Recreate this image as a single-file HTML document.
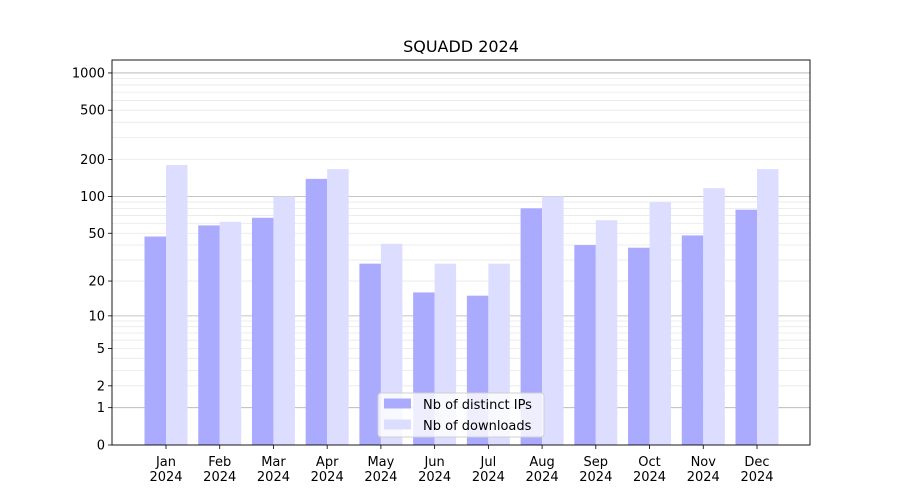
<!DOCTYPE html>
<html><head><meta charset="utf-8">
<style>body{margin:0;background:#fff}svg{display:block;font-family:"DejaVu Sans","Liberation Sans",sans-serif}</style>
</head><body>
<svg id="chart" width="900" height="500"></svg>
<script>
const categories=["Jan","Feb","Mar","Apr","May","Jun","Jul","Aug","Sep","Oct","Nov","Dec"];
const ipValues=[47,58,67,139,28,16,15,80,40,38,48,78];
const downloadValues=[180,62,100,167,41,28,28,100,64,90,117,167];
const tickValues=[0,1,2,5,10,20,50,100,200,500,1000];
const tickLabels=["0","1","2","5","10","20","50","100","200","500","1000"];
const ns="http://www.w3.org/2000/svg",svg=document.getElementById('chart');
const L=112,R=810,T=60,B=445;
function y(v){return B-124*Math.log10(1+v);}
function x(i){return 166+i*(757-166)/11;}
function mk(t,a,p){const e=document.createElementNS(ns,t);for(const k in a)e.setAttribute(k,a[k]);(p||svg).appendChild(e);return e;}
// grid
const g=mk('g',{});
const minors=[];for(let d=1;d<=1000;d*=10)for(let m=2;m<=9;m++)if(m*d<1300)minors.push(m*d);
minors.forEach(v=>{const l=mk('line',{x1:L,x2:R,y1:y(v),y2:y(v),stroke:'#e8e8e8','stroke-width':0.8},g);});
[1,10,100,1000].forEach(v=>{const l=mk('line',{x1:L,x2:R,y1:y(v),y2:y(v),stroke:'#b0b0b0','stroke-width':0.8},g);});
// bars
categories.forEach((c,i)=>{
 const b1=mk('rect',{x:x(i)-21.5,y:y(ipValues[i]),width:21.5,height:B-y(ipValues[i]),fill:'#aaaaff'});
 
 const b2=mk('rect',{x:x(i),y:y(downloadValues[i]),width:21.5,height:B-y(downloadValues[i]),fill:'#ddddff'});
 
 mk('line',{x1:x(i),x2:x(i),y1:B,y2:B+4,stroke:'#000','stroke-width':0.8});
 const t=mk('text',{x:x(i),y:B+21,'text-anchor':'middle','font-size':13});t.textContent=c;
 
 const t2=mk('text',{x:x(i),y:B+36,'text-anchor':'middle','font-size':13});t2.textContent='2024';
 
});
// y ticks
tickValues.forEach((v,i)=>{
 mk('line',{x1:L-4,x2:L,y1:y(v),y2:y(v),stroke:'#000','stroke-width':0.8});
 const t=mk('text',{x:L-7,y:y(v)+4.5,'text-anchor':'end','font-size':13});t.textContent=tickLabels[i];
 
});
const fr=mk('rect',{x:L,y:T,width:R-L,height:B-T,fill:'none',stroke:'#000','stroke-width':0.9});

const ti=mk('text',{x:461,y:52,'text-anchor':'middle','font-size':16});ti.textContent='SQUADD 2024';

// legend
const lg=mk('g',{});
mk('rect',{x:378,y:393,width:166,height:44,rx:3,fill:'rgba(255,255,255,0.8)',stroke:'#d0d0d0'},lg);
mk('rect',{x:384,y:398.5,width:27,height:10,fill:'#aaaaff'},lg);
mk('rect',{x:384,y:419.5,width:27,height:10,fill:'#ddddff'},lg);
const l1=mk('text',{x:423,y:409,'font-size':13},lg);l1.textContent='Nb of distinct IPs';

const l2=mk('text',{x:423,y:430,'font-size':13},lg);l2.textContent='Nb of downloads';

</script>
</body></html>
